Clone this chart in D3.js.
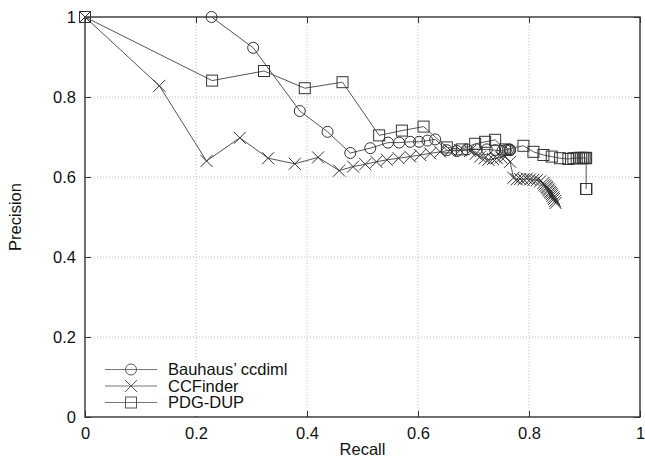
<!DOCTYPE html>
<html>
<head>
<meta charset="utf-8">
<script src="https://cdn.jsdelivr.net/npm/d3@7"></script>
<style>
  body { margin: 0; background: #fff; }
  svg { font-family: "Liberation Sans", Arial, sans-serif; }
</style>
</head>
<body>
<svg id="chart" width="645" height="466"></svg>
<script>
// ---- data ----
const seriesNames = ["Bauhaus\u2019 ccdiml", "CCFinder", "PDG-DUP"];

const bauhausRecall = [0.228, 0.303, 0.387, 0.437, 0.478, 0.514, 0.546, 0.566, 0.586, 0.602, 0.617, 0.631,
    0.652, 0.670, 0.688, 0.706, 0.724, 0.739, 0.752, 0.758, 0.762, 0.765, 0.766, 0.766];
const bauhausPrecision = [1.0, 0.923, 0.765, 0.713, 0.660, 0.672, 0.686, 0.686, 0.688, 0.688, 0.691, 0.694,
    0.667, 0.665, 0.669, 0.669, 0.669, 0.667, 0.665, 0.667, 0.668, 0.668, 0.668, 0.667];

const ccfinderRecall = [0, 0.134, 0.219, 0.279, 0.330, 0.378, 0.420, 0.458, 0.483, 0.505, 0.525, 0.544, 0.565,
    0.586, 0.604, 0.622, 0.640, 0.658, 0.676, 0.694, 0.704, 0.712, 0.720, 0.727, 0.735, 0.742, 0.750, 0.757, 0.766,
    0.772, 0.778, 0.784, 0.790, 0.796, 0.802, 0.808, 0.814, 0.820, 0.826, 0.828, 0.830, 0.832, 0.833, 0.835,
    0.836, 0.838, 0.839, 0.841, 0.842, 0.844, 0.845, 0.847, 0.848];
const ccfinderPrecision = [1, 0.828, 0.640, 0.698, 0.647, 0.633, 0.649, 0.616, 0.626, 0.632, 0.638, 0.643, 0.647,
    0.651, 0.655, 0.659, 0.663, 0.667, 0.667, 0.665, 0.658, 0.651, 0.647, 0.643, 0.645, 0.647, 0.649, 0.651, 0.638,
    0.598, 0.594, 0.595, 0.594, 0.596, 0.594, 0.593, 0.592, 0.589, 0.585, 0.581, 0.578, 0.575, 0.572, 0.569,
    0.566, 0.563, 0.560, 0.557, 0.553, 0.549, 0.545, 0.540, 0.535];

const pdgRecall = [0, 0.229, 0.3225, 0.396, 0.464, 0.530, 0.571, 0.610, 0.652, 0.679, 0.703, 0.721, 0.739,
    0.757, 0.790, 0.808, 0.826, 0.841, 0.856, 0.871, 0.880, 0.886, 0.890, 0.894, 0.897, 0.900, 0.902, 0.903,
    0.903, 0.903, 0.903];
const pdgPrecision = [1, 0.841, 0.865, 0.822, 0.837, 0.704, 0.716, 0.726, 0.674, 0.669, 0.683, 0.688, 0.693,
    0.669, 0.678, 0.663, 0.655, 0.651, 0.647, 0.645, 0.647, 0.647, 0.648, 0.647, 0.648, 0.647, 0.648, 0.647,
    0.570, 0.570, 0.570];

const xTicks = [0, 0.2, 0.4, 0.6, 0.8, 1];
const yTicks = [0, 0.2, 0.4, 0.6, 0.8, 1];

// ---- layout ----
const MARGIN = {top: 17, right: 5, bottom: 49, left: 85};
const WIDTH = 645, HEIGHT = 466;
const LINE_COLOR = "#555";
const MARK_COLOR = "#333";

const svg = d3.select("#chart");

const xScale = d3.scaleLinear().domain([0, 1]).range([MARGIN.left, WIDTH - MARGIN.right]);
const yScale = d3.scaleLinear().domain([0, 1]).range([HEIGHT - MARGIN.bottom, MARGIN.top]);

const fmt = d3.format("~g");

// grid
const grid = svg.append("g").attr("stroke", "#bdbdbd").attr("stroke-width", 1).attr("stroke-dasharray", "1,2");
grid.selectAll(".gx").data(xTicks.slice(1, -1)).join("line")
    .attr("x1", d => xScale(d)).attr("x2", d => xScale(d))
    .attr("y1", yScale(0)).attr("y2", yScale(1));
grid.selectAll(".gy").data(yTicks.slice(1, -1)).join("line")
    .attr("x1", xScale(0)).attr("x2", xScale(1))
    .attr("y1", d => yScale(d)).attr("y2", d => yScale(d));

// axes (ticks point inward, mirrored on top/right)
svg.append("g").attr("transform", `translate(0,${yScale(0)})`)
    .call(d3.axisBottom(xScale).tickValues(xTicks).tickFormat(fmt).tickSize(-6).tickPadding(10));
svg.append("g").attr("transform", `translate(${xScale(0)},0)`)
    .call(d3.axisLeft(yScale).tickValues(yTicks).tickFormat(fmt).tickSize(-6).tickPadding(9));
svg.append("g").attr("transform", `translate(0,${yScale(1)})`)
    .call(d3.axisTop(xScale).tickValues(xTicks).tickFormat("").tickSize(-6));
svg.append("g").attr("transform", `translate(${xScale(1)},0)`)
    .call(d3.axisRight(yScale).tickValues(yTicks).tickFormat("").tickSize(-6));

svg.selectAll(".domain").remove();
svg.selectAll(".tick line").attr("stroke", "#333");
svg.selectAll(".tick text").attr("font-size", 16.5).attr("fill", "#111")
    .attr("font-family", "'Liberation Sans', Arial, sans-serif");

// frame
svg.append("rect")
    .attr("x", xScale(0)).attr("y", yScale(1))
    .attr("width", xScale(1) - xScale(0)).attr("height", yScale(0) - yScale(1))
    .attr("fill", "none").attr("stroke", "#333").attr("stroke-width", 1.4);

// axis titles
svg.append("text").attr("x", xScale(0.5)).attr("y", 455)
    .attr("text-anchor", "middle").attr("font-size", 16.5).attr("fill", "#111").text("Recall");
svg.append("text").attr("transform", `translate(21,${yScale(0.5)}) rotate(-90)`)
    .attr("text-anchor", "middle").attr("font-size", 16.5).attr("fill", "#111").text("Precision");

// markers
function drawMarker(g, shape, cx, cy) {
    if (shape === "circle") {
        g.append("circle").attr("cx", cx).attr("cy", cy).attr("r", 5.5);
    } else if (shape === "cross") {
        g.append("path").attr("d", `M${cx - 6},${cy - 6}L${cx + 6},${cy + 6}M${cx - 6},${cy + 6}L${cx + 6},${cy - 6}`);
    } else {
        g.append("rect").attr("x", cx - 5.5).attr("y", cy - 5.5).attr("width", 11).attr("height", 11);
    }
}

const series = [
    {name: seriesNames[0], shape: "circle", recall: bauhausRecall, precision: bauhausPrecision},
    {name: seriesNames[1], shape: "cross", recall: ccfinderRecall, precision: ccfinderPrecision},
    {name: seriesNames[2], shape: "square", recall: pdgRecall, precision: pdgPrecision}
];

const line = d3.line().x(d => xScale(d[0])).y(d => yScale(d[1]));

const plot = svg.append("g");
series.forEach(s => {
    const pts = s.recall.map((r, i) => [r, s.precision[i]]);
    plot.append("path").datum(pts).attr("d", line)
        .attr("fill", "none").attr("stroke", LINE_COLOR).attr("stroke-width", 1);
    const mg = plot.append("g").attr("fill", "none").attr("stroke", MARK_COLOR).attr("stroke-width", 1);
    pts.forEach(p => drawMarker(mg, s.shape, xScale(p[0]), yScale(p[1])));
});

// legend (opaque, hides the grid behind it)
svg.append("rect").attr("x", xScale(0) + 1).attr("y", 360)
    .attr("width", 215).attr("height", yScale(0) - 361).attr("fill", "#fff");
const legend = svg.append("g");
series.forEach((s, i) => {
    const ly = 369.5 + i * 16.5;
    legend.append("line").attr("x1", 105).attr("x2", 157).attr("y1", ly).attr("y2", ly)
        .attr("stroke", "#777").attr("stroke-width", 1);
    const mg = legend.append("g").attr("fill", "none").attr("stroke", "#555").attr("stroke-width", 1);
    drawMarker(mg, s.shape, 131, ly);
    legend.append("text").attr("x", 168).attr("y", ly).attr("dy", "0.36em")
        .attr("font-size", 16.5).attr("fill", "#111").text(s.name);
});
</script>
</body>
</html>
